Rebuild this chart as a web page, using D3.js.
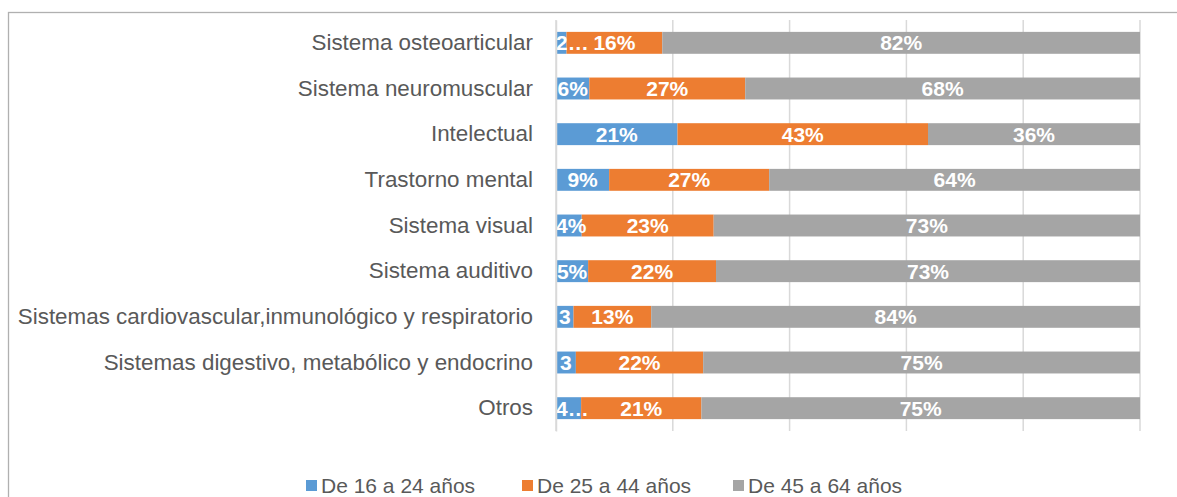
<!DOCTYPE html>
<html>
<head>
<meta charset="utf-8">
<script src="https://cdn.jsdelivr.net/npm/d3@7"></script>
<style>
  body { margin: 0; background: #fff; }
  text { font-family: "Liberation Sans", Arial, sans-serif; }
</style>
</head>
<body>
<svg id="chart" width="1177" height="497"></svg>
<script>
// categories, top to bottom
const categories = [
  "Sistema osteoarticular",
  "Sistema neuromuscular",
  "Intelectual",
  "Trastorno mental",
  "Sistema visual",
  "Sistema auditivo",
  "Sistemas cardiovascular,inmunológico y respiratorio",
  "Sistemas digestivo, metabólico y endocrino",
  "Otros"
];

// percentage per age group
const age16to24 = [1.8, 5.7, 20.8, 9.1, 4.4, 5.5, 3.0, 3.4, 4.3];
const age25to44 = [16.4, 26.7, 42.9, 27.4, 22.6, 21.9, 13.3, 21.8, 20.6];
const age45to64 = [81.8, 67.6, 36.3, 63.5, 73.0, 72.6, 83.7, 74.8, 75.1];

// labels as shown when the first segment is too narrow
const age16to24Labels = ["2…", "6%", "21%", "9%", "4%", "5%", "3", "3", "4…"];

const seriesNames = ["De 16 a 24 años", "De 25 a 44 años", "De 45 a 64 años"];
const colors = ["#5b9bd5", "#ed7d31", "#a5a5a5"];
const xTicks = [0, 20, 40, 60, 80, 100];

const svg = d3.select("#chart");

// outer chart border
svg.append("rect")
    .attr("x", 8.5).attr("y", 12.5)
    .attr("width", 1180).attr("height", 500)
    .attr("fill", "none")
    .attr("stroke", "#b0b0b0")
    .attr("stroke-width", 1.3);

const plot = { left: 556, right: 1140, top: 20, bottom: 431 };

const x = d3.scaleLinear().domain([0, 100]).range([plot.left, plot.right]);
const y = d3.scaleBand().domain(categories).range([plot.top, plot.bottom]).paddingInner(0.52).paddingOuter(0.26);

// gridlines
svg.append("g")
    .selectAll("line")
    .data(xTicks)
    .join("line")
    .attr("x1", d => x(d)).attr("x2", d => x(d))
    .attr("y1", plot.top).attr("y2", plot.bottom)
    .attr("stroke", "#d9d9d9")
    .attr("stroke-width", 1.5);

// stack the series
const rows = categories.map((c, i) => ({
    cat: c, a: age16to24[i], b: age25to44[i], c: age45to64[i], i: i
}));
const stack = d3.stack().keys(["a", "b", "c"]);
const layers = stack(rows);

const barsG = svg.append("g");
const labelsG = svg.append("g");

layers.forEach((layer, k) => {
    barsG.append("g").selectAll("rect")
        .data(layer)
        .join("rect")
        .attr("x", d => x(d[0]))
        .attr("width", d => x(d[1]) - x(d[0]))
        .attr("y", d => y(d.data.cat))
        .attr("height", y.bandwidth())
        .attr("fill", colors[k]);

    // labels go on top of all bars so overflowing text stays visible
    labelsG.append("g").selectAll("text")
        .data(layer)
        .join("text")
        .attr("y", d => y(d.data.cat) + y.bandwidth() / 2)
        .attr("dy", "0.36em")
        .attr("text-anchor", "middle")
        .attr("fill", "#fff")
        .attr("font-weight", "bold")
        .attr("font-size", 21)
        .text(d => k === 0 ? age16to24Labels[d.data.i] : Math.round(d[1] - d[0]) + "%")
        .attr("x", function(d) {
            // keep narrow labels inside the plot area
            const w = this.getComputedTextLength();
            return Math.max((x(d[0]) + x(d[1])) / 2, plot.left + w / 2);
        });
});

// category axis
const yAxis = svg.append("g")
    .attr("transform", `translate(${plot.left},0)`)
    .call(d3.axisLeft(y).tickSize(0).tickPadding(23));
yAxis.select(".domain").attr("stroke", "#d9d9d9").attr("stroke-width", 1.5);
yAxis.selectAll("text")
    .attr("font-size", 22.4)
    .attr("fill", "#595959")
    .style("font-family", "'Liberation Sans', Arial, sans-serif");

// legend
const legendX = [306, 522, 733];
const legend = svg.append("g");
seriesNames.forEach((name, k) => {
    legend.append("rect")
        .attr("x", legendX[k]).attr("y", 480)
        .attr("width", 11).attr("height", 11)
        .attr("fill", colors[k]);
    legend.append("text")
        .attr("x", legendX[k] + 15).attr("y", 485.5)
        .attr("dy", "0.36em")
        .attr("font-size", 21)
        .attr("fill", "#595959")
        .text(name);
});
</script>
</body>
</html>
